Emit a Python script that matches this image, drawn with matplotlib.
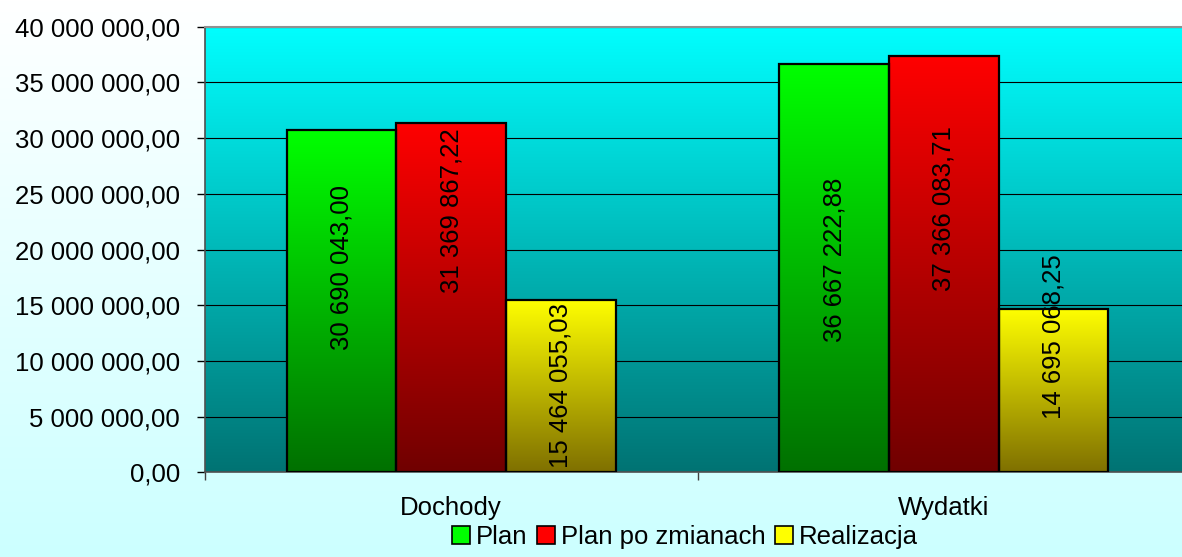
import numpy as np
import matplotlib
matplotlib.use("Agg")
import matplotlib.pyplot as plt
from matplotlib.colors import LinearSegmentedColormap
from matplotlib.patches import Patch
from matplotlib.ticker import FuncFormatter

categories = ["Dochody", "Wydatki"]
series = ["Plan", "Plan po zmianach", "Realizacja"]
plan = [30690043.00, 36667222.88]
plan_zm = [31369867.22, 37366083.71]
realizacja = [15464055.03, 14695068.25]

# where the labels sit (moved by hand in the original)
label_y = [[18.4e6, 19.1e6], [23.5e6, 23.7e6], [7.8e6, 12.2e6]]

tops = ["#00ff00", "#ff0000", "#ffff00"]
bottoms = ["#007000", "#700000", "#7f7000"]

plt.rcParams['font.family'] = ['Liberation Sans', 'DejaVu Sans']


def pl(v):
    return f"{v:,.2f}".replace(",", " ").replace(".", ",")


def vgrad(ax, extent, top, bottom, z, **kw):
    cmap = LinearSegmentedColormap.from_list("g", [bottom, top])
    ax.imshow(np.linspace(0, 1, 256).reshape(-1, 1), cmap=cmap, origin="lower",
              extent=extent, aspect="auto", zorder=z, interpolation="bilinear", **kw)


W, H = 1182, 557
fig = plt.figure(figsize=(W / 100, H / 100), dpi=100)

bg = fig.add_axes([0, 0, 1, 1])
bg.set_zorder(-1)
vgrad(bg, [0, 1, 0, 1], "#ffffff", "#ccffff", 0)
bg.set_xlim(0, 1)
bg.set_ylim(0, 1)
bg.axis("off")

ax = fig.add_axes([205 / W, 1 - 472.3 / H, 985 / W, (472.3 - 26.7) / H])
ax.set_facecolor("none")
vgrad(ax, [0, 1, 0, 1], "#00ffff", "#007373", 0, transform=ax.transAxes)

x = np.arange(len(categories))
bw = 0.2225
for i, vals in enumerate([plan, plan_zm, realizacja]):
    bars = ax.bar(x + (i - 1) * bw, vals, bw, facecolor="none",
                  edgecolor="black", linewidth=1.6, zorder=3)
    for j, b in enumerate(bars):
        vgrad(ax, [b.get_x(), b.get_x() + b.get_width(), 0, b.get_height()],
              tops[i], bottoms[i], 2)
        ax.text(b.get_x() + b.get_width() / 2, label_y[i][j], pl(vals[j]),
                rotation=90, ha="center", va="center", fontsize=18.5, zorder=4)

ax.set_xlim(-0.5, 1.5)
ax.set_ylim(0, 40e6)
ax.set_yticks(np.arange(0, 40e6 + 1, 5e6))
ax.yaxis.set_major_formatter(FuncFormatter(lambda v, p: pl(v)))
ax.yaxis.grid(True, color="black", linewidth=0.8)
ax.set_axisbelow(True)

ax.set_xticks(x)
ax.set_xticklabels(categories)
ax.set_xticks([-0.5, 0.5, 1.5], minor=True)
ax.tick_params(axis="x", which="major", length=0, pad=17, labelsize=18.5)
ax.tick_params(axis="x", which="minor", length=6, width=1, color="#404040")
ax.tick_params(axis="y", length=6, width=1, pad=12, labelsize=18.5)

for s in ["left", "bottom"]:
    ax.spines[s].set_color("#505050")
    ax.spines[s].set_linewidth(1.2)
ax.spines["top"].set_color("#909090")
ax.spines["top"].set_linewidth(1.5)
ax.spines["right"].set_visible(False)

handles = [Patch(facecolor=tops[i], edgecolor="black", linewidth=1.2) for i in range(3)]
fig.legend(handles, series, loc="center", bbox_to_anchor=(685 / W, 1 - 537 / H),
           ncol=3, frameon=False, fontsize=18.5, handlelength=0.7, handleheight=0.7,
           handletextpad=0.2, columnspacing=0.4, borderpad=0)

fig.savefig("out.png", dpi=100)
